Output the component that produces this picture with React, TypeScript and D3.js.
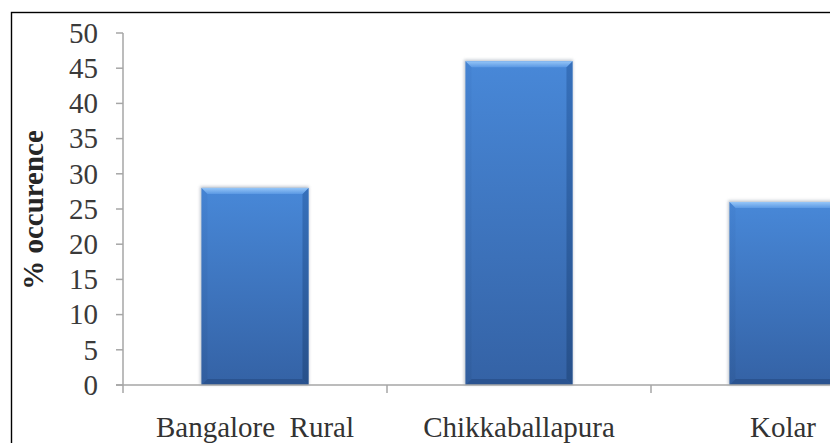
import React from 'react';
import * as d3 from 'd3';

// District-wise share of occurrence (%)
const categories = ['Bangalore  Rural', 'Chikkaballapura', 'Kolar'];
const values = [28, 46, 26];
const yTickValues = [0, 5, 10, 15, 20, 25, 30, 35, 40, 45, 50];

const W = 830;
const H = 443;
const plot = { left: 123, top: 33, bottom: 385, bandWidth: 264 };
const FONT = "'Liberation Serif', 'Times New Roman', serif";

export default function App() {
  const y = d3.scaleLinear().domain([0, 50]).range([plot.bottom, plot.top]);
  const x = d3
    .scaleBand<string>()
    .domain(categories)
    .range([plot.left, plot.left + plot.bandWidth * categories.length])
    .padding(0);
  const barW = x.bandwidth() * 0.405;
  const bev = 6;
  const catTicks = [...categories.map((c) => x(c) as number), plot.left + x.bandwidth() * categories.length];

  return (
    <div style={{ position: 'fixed', left: 0, top: 0, width: W, height: H, overflow: 'hidden', background: '#fff' }}>
      <svg width={W} height={H} style={{ display: 'block' }}>
        <defs>
          <linearGradient id="face" x1="0" y1="0" x2="0" y2="1">
            <stop offset="0%" stopColor="#4888d8" />
            <stop offset="100%" stopColor="#3462a5" />
          </linearGradient>
          <linearGradient id="topBev" x1="0" y1="0" x2="0" y2="1">
            <stop offset="0%" stopColor="#96c6f8" />
            <stop offset="100%" stopColor="#5b99e4" />
          </linearGradient>
          <linearGradient id="rightBev" x1="0" y1="0" x2="0" y2="1">
            <stop offset="0%" stopColor="#3670bb" />
            <stop offset="100%" stopColor="#27508a" />
          </linearGradient>
          <linearGradient id="leftBev" x1="0" y1="0" x2="0" y2="1">
            <stop offset="0%" stopColor="#4380cf" />
            <stop offset="100%" stopColor="#2f5a98" />
          </linearGradient>
          <filter id="shadow" x="-20%" y="-20%" width="140%" height="140%">
            <feGaussianBlur stdDeviation="1.6" />
          </filter>
        </defs>

        {/* outer frame */}
        <rect x={11.5} y={12.5} width={W} height={H} fill="none" stroke="#000" strokeWidth={1.4} />

        {/* bars */}
        {categories.map((c, i) => {
          const cx = (x(c) as number) + x.bandwidth() / 2;
          const x0 = cx - barW / 2;
          const x1 = cx + barW / 2;
          const y0 = y(values[i]);
          const y1 = y(0);
          const pts = (p: number[][]) => p.map((q) => q.join(',')).join(' ');
          return (
            <g key={c}>
              <rect x={x0 - 1.5} y={y0 - 1.5} width={barW + 2} height={y1 - y0 + 1.5} fill="#9aa3b0" opacity={0.6} filter="url(#shadow)" />
              <rect x={x0} y={y0} width={barW} height={y1 - y0} fill="url(#face)" />
              <polygon points={pts([[x0, y0], [x0 + bev, y0 + bev], [x0 + bev, y1 - bev], [x0, y1]])} fill="url(#leftBev)" opacity={0.55} />
              <polygon points={pts([[x1, y0], [x1, y1], [x1 - bev, y1 - bev], [x1 - bev, y0 + bev]])} fill="url(#rightBev)" />
              <polygon points={pts([[x0, y1], [x1, y1], [x1 - bev, y1 - bev], [x0 + bev, y1 - bev]])} fill="#2a5390" />
              <polygon points={pts([[x0, y0], [x1, y0], [x1 - bev, y0 + bev], [x0 + bev, y0 + bev]])} fill="url(#topBev)" />
            </g>
          );
        })}

        {/* y axis */}
        <line x1={plot.left} x2={plot.left} y1={plot.top} y2={plot.bottom} stroke="#a6a6a6" strokeWidth={1.5} />
        {yTickValues.map((t) => (
          <g key={t}>
            <line x1={plot.left - 7} x2={plot.left} y1={y(t)} y2={y(t)} stroke="#a6a6a6" strokeWidth={1.5} />
            <text
              x={98}
              y={y(t)}
              dy="0.34em"
              textAnchor="end"
              fontFamily={FONT}
              fontSize={29}
              fill="#3a3a3a"
            >
              {t}
            </text>
          </g>
        ))}

        {/* x axis */}
        <line x1={plot.left - 7} x2={W + 20} y1={plot.bottom} y2={plot.bottom} stroke="#a6a6a6" strokeWidth={1.5} />
        {catTicks.map((tx, i) => (
          <line key={i} x1={tx} x2={tx} y1={plot.bottom} y2={plot.bottom + 8} stroke="#a6a6a6" strokeWidth={1.5} />
        ))}
        {categories.map((c) => (
          <text
            key={c}
            x={(x(c) as number) + x.bandwidth() / 2}
            y={437}
            textAnchor="middle"
            fontFamily={FONT}
            fontSize={29}
            fill="#333"
            style={{ whiteSpace: 'pre' }}
          >
            {c}
          </text>
        ))}

        {/* y axis title */}
        <text
          transform="translate(43,210) rotate(-90)"
          textAnchor="middle"
          fontFamily={FONT}
          fontSize={29}
          fontWeight="bold"
          fill="#262626"
        >
          % occurence
        </text>
      </svg>
    </div>
  );
}
